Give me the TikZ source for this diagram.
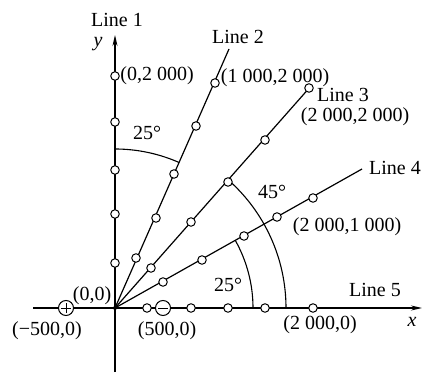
\documentclass[tikz,border=0pt]{standalone}
\usepackage{fontspec}
\setmainfont{Liberation Serif}
\usetikzlibrary{arrows.meta}
\begin{document}
\begin{tikzpicture}[x=1pt,y=-1pt,
  ln/.style={line width=1.2pt},
  arcline/.style={line width=1.1pt},
  smallc/.style={circle,draw,fill=white,inner sep=0pt,minimum size=8.5pt,line width=1pt},
  bigc/.style={circle,draw,fill=white,inner sep=0pt,minimum size=15pt,line width=1pt},
  lbl/.style={font=\fontsize{20}{24}\selectfont,inner sep=0pt,anchor=center},
  tip/.style={-{Stealth[length=11pt,width=5pt]}}]
\useasboundingbox[fill=white] (0,0) rectangle (423,374);
% axes and lines
\coordinate (O) at (115,308);
\coordinate (xs) at (33,308);
\coordinate (xe) at (422,308);
\coordinate (ys) at (115,372);
\coordinate (ye) at (115,35);
\coordinate (e2) at (229,49);
\coordinate (e3) at (311,86);
\coordinate (e4) at (362,169);
\draw[ln,tip] (xs) -- (xe);
\draw[ln,tip] (ys) -- (ye);
\draw[ln] (O) -- (e2);
\draw[ln] (O) -- (e3);
\draw[ln] (O) -- (e4);
% angle arcs
\draw[arcline] (O) ++(-90:159) arc[start angle=-90,end angle=-66.2,radius=159];
\draw[arcline] (O) ++(-48.6:171) arc[start angle=-48.6,end angle=0,radius=171];
\draw[arcline] (O) ++(-29.4:138) arc[start angle=-29.4,end angle=0,radius=138];
\fill (O) circle (2pt);
% line 1 points
\node[smallc] (a1) at (115,263) {};
\node[smallc] (a2) at (115,214) {};
\node[smallc] (a3) at (115,170) {};
\node[smallc] (a4) at (115,122) {};
\node[smallc] (a5) at (115,76) {};
% line 2 points
\node[smallc] (b1) at (136,258) {};
\node[smallc] (b2) at (156,218) {};
\node[smallc] (b3) at (174,174) {};
\node[smallc] (b4) at (196,126) {};
\node[smallc] (b5) at (215,83) {};
% line 3 points
\node[smallc] (c1) at (151,268) {};
\node[smallc] (c2) at (191,222) {};
\node[smallc] (c3) at (228,182) {};
\node[smallc] (c4) at (265,140) {};
\node[smallc] (c5) at (309,88) {};
% line 4 points
\node[smallc] (d1) at (163,282) {};
\node[smallc] (d2) at (202,260) {};
\node[smallc] (d3) at (244,236) {};
\node[smallc] (d4) at (277,217) {};
\node[smallc] (d5) at (313,198) {};
% line 5 points
\node[smallc] (f1) at (147,308) {};
\node[smallc] (f2) at (191,308) {};
\node[smallc] (f3) at (228,308) {};
\node[smallc] (f4) at (265,308) {};
\node[smallc] (f5) at (313,308) {};
% electrodes
\node[bigc] (pl) at (66,308) {};
\draw[line width=0.9pt] ([xshift=-5pt]pl.center) -- ([xshift=5pt]pl.center);
\draw[line width=0.9pt] ([yshift=-5pt]pl.center) -- ([yshift=5pt]pl.center);
\node[bigc] (mi) at (163,308) {};
\draw[line width=0.9pt] ([xshift=-5pt]mi.center) -- ([xshift=5pt]mi.center);
% labels
\node[lbl] (t1) at (117,20) {Line 1};
\node[lbl] (ty) at (98,44) {\textit{y}};
\node[lbl] (t2) at (157,76) {(0,2 000)};
\node[lbl] (t3) at (238,37) {Line 2};
\node[lbl] (t4) at (275,78) {(1 000,2 000)};
\node[lbl] (t5) at (343,95) {Line 3};
\node[lbl] (t6) at (355,117) {(2 000,2 000)};
\node[lbl] (t7) at (395,168) {Line 4};
\node[lbl] (t8) at (147,133) {25°};
\node[lbl] (t9) at (272,192) {45°};
\node[lbl] (t10) at (347,227) {(2 000,1 000)};
\node[lbl] (t11) at (228,285) {25°};
\node[lbl] (t12) at (375,290) {Line 5};
\node[lbl] (tx) at (412,322) {\textit{x}};
\node[lbl] (t13) at (92,296) {(0,0)};
\node[lbl] (t14) at (47,331) {(−500,0)};
\node[lbl] (t15) at (167,331) {(500,0)};
\node[lbl] (t16) at (320,325) {(2 000,0)};
\end{tikzpicture}
\end{document}
